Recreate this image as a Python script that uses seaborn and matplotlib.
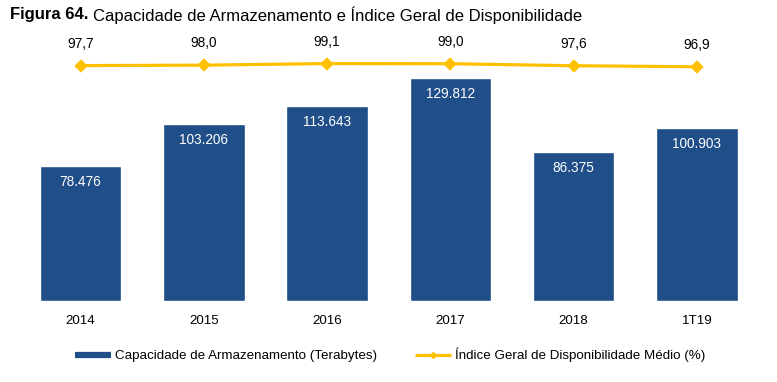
import matplotlib
matplotlib.use("Agg")
import matplotlib.pyplot as plt
from matplotlib.lines import Line2D
import seaborn as sns
import pandas as pd

# data
anos = ["2014", "2015", "2016", "2017", "2018", "1T19"]
capacidade = [78476, 103206, 113643, 129812, 86375, 100903]
disponibilidade = [97.7, 98.0, 99.1, 99.0, 97.6, 96.9]
rotulos_cap = ["78.476", "103.206", "113.643", "129.812", "86.375", "100.903"]
rotulos_disp = ["97,7", "98,0", "99,1", "99,0", "97,6", "96,9"]

azul = "#1F4E89"
amarelo = "#FFC000"

sns.set_theme(style="white")
plt.rcParams["font.family"] = ["Liberation Sans", "DejaVu Sans"]
plt.rcParams["text.color"] = "black"

df = pd.DataFrame({"ano": anos, "cap": capacidade, "disp": disponibilidade})

fig = plt.figure(figsize=(7.77, 3.82), dpi=100)
W, H = 777, 382
# axes box in pixels: left 19, right 758.5, top 45, bottom 300.7
ax = fig.add_axes([19 / W, 1 - 300.7 / H, (758.5 - 19) / W, (300.7 - 45) / H])

sns.barplot(data=df, x="ano", y="cap", color=azul, width=0.66, saturation=1, ax=ax)
ax.set_ylim(0, 149000)
ax.set_xlim(-0.5, 5.5)

for i, (v, t) in enumerate(zip(capacidade, rotulos_cap)):
    ax.annotate(t, (i, v), xytext=(0, -16), textcoords="offset pixels",
                ha="center", va="center", color="white", fontsize=9.8)

ax2 = ax.twinx()
sns.pointplot(data=df, x="ano", y="disp", color=amarelo, markers="D",
              markersize=5, linewidth=2.3, ax=ax2)
ax2.set_ylim(-64.4, 111.9)
ax2.set_xlim(-0.5, 5.5)

for i, (v, t) in enumerate(zip(disponibilidade, rotulos_disp)):
    ax2.annotate(t, (i, v), xytext=(0, 22), textcoords="offset pixels",
                 ha="center", va="center", color="black", fontsize=9.8)

for a in (ax, ax2):
    for s in a.spines.values():
        s.set_visible(False)
    a.set_yticks([])
    a.set_ylabel("")
    a.set_xlabel("")
    a.tick_params(axis="x", length=0)
ax.tick_params(axis="x", labelsize=9.6, colors="black", pad=10)
ax2.tick_params(axis="x", labelbottom=False)

# title: bold part then regular part
t1 = fig.text(10 / W, 1 - 15 / H, "Figura 64.", fontsize=12, fontweight="bold",
              va="center", ha="left", color="black")
fig.canvas.draw()
bb = t1.get_window_extent()
fig.text((bb.x1 + 4.5) / W, 1 - 15 / H,
         "Capacidade de Armazenamento e Índice Geral de Disponibilidade",
         fontsize=12, va="center", ha="left", color="black")

handles = [
    Line2D([0], [0], color=azul, lw=4.5, solid_capstyle="butt"),
    Line2D([0], [0], color=amarelo, lw=2.3, marker="D", markersize=3,
           solid_capstyle="butt"),
]
labels = ["Capacidade de Armazenamento (Terabytes)",
          "Índice Geral de Disponibilidade Médio (%)"]
fig.legend(handles, labels, loc="center", bbox_to_anchor=(390 / W, 1 - 355 / H),
           ncol=2, frameon=False, fontsize=9.6, handlelength=2.7,
           handletextpad=0.3, columnspacing=2.8, labelcolor="black")

fig.savefig("out.png", dpi=100)
